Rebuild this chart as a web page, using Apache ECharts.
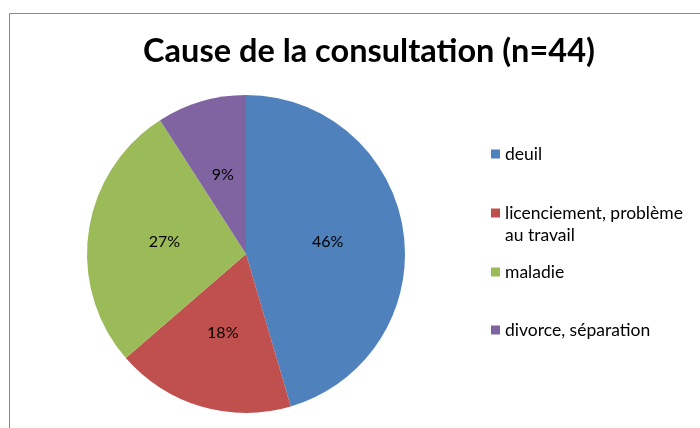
<!DOCTYPE html>
<html>
<head>
<meta charset="utf-8">
<script src="https://cdn.jsdelivr.net/npm/echarts@6/dist/echarts.min.js"></script>
<style>
  html, body { margin: 0; padding: 0; background: #fff; }
  #chart { width: 700px; height: 428px; }
</style>
</head>
<body>
<div id="chart"></div>
<script>
const causes = ['deuil', 'licenciement, problème au travail', 'maladie', 'divorce, séparation']
const counts = [20, 8, 12, 4]
// labels as printed on the slices
const percentLabels = ['46%', '18%', '27%', '9%']
const colors = ['#4F81BD', '#C0504D', '#9BBB59', '#8064A2']
// legend label text as Excel wraps it
const legendLabels = ['deuil', '\nlicenciement, problème\nau travail', 'maladie', 'divorce, séparation']
const legendTops = [143, 180, 261, 319]

const chart = echarts.init(document.getElementById('chart'))

const font = 'Lato, "Open Sans", sans-serif'

const legends = causes.map((name, i) => ({
  data: [name],
  left: 491,
  top: legendTops[i],
  padding: 0,
  orient: 'vertical',
  itemWidth: 9,
  itemHeight: 9,
  itemGap: 0,
  icon: 'rect',
  selectedMode: false,
  formatter: () => legendLabels[i],
  textStyle: {
    fontFamily: font,
    fontSize: 17.5,
    color: '#000',
    lineHeight: 22
  }
}))

const option = {
  backgroundColor: '#fff',
  animation: false,
  color: colors,
  title: {
    text: 'Cause de la consultation (n=44)',
    left: 364,
    top: 30,
    textAlign: 'center',
    textStyle: {
      fontFamily: font,
      fontWeight: 'bold',
      fontSize: 32.5,
      color: '#000'
    }
  },
  legend: legends,
  graphic: [{
    type: 'polyline',
    shape: { points: [[9.5, 428], [9.5, 13.5], [700, 13.5]] },
    style: { stroke: '#888', lineWidth: 1, fill: null }
  }],
  series: [{
    type: 'pie',
    center: [246, 254],
    radius: 159,
    startAngle: 90,
    clockwise: true,
    label: {
      position: 'inner',
      formatter: p => percentLabels[p.dataIndex],
      fontFamily: font,
      fontSize: 16,
      color: '#000'
    },
    labelLine: { show: false },
    itemStyle: { borderWidth: 0 },
    data: causes.map((name, i) => ({ name, value: counts[i] }))
  }]
}

chart.setOption(option)
</script>
</body>
</html>
